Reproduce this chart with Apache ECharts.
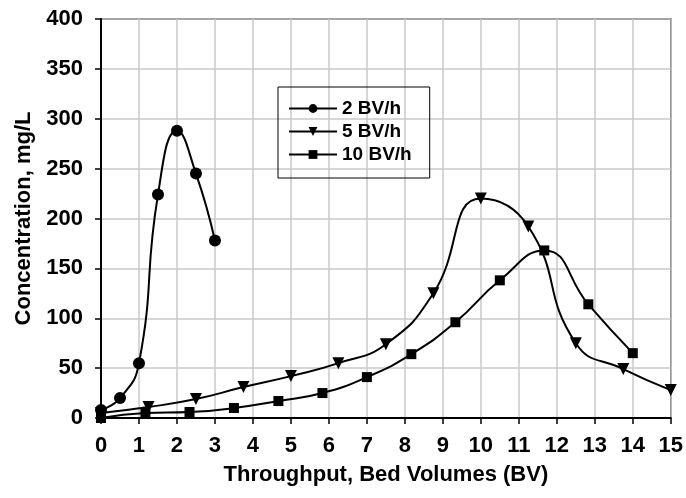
<!DOCTYPE html>
<html>
<head>
<meta charset="utf-8">
<script src="https://cdn.jsdelivr.net/npm/echarts@6/dist/echarts.min.js"></script>
<style>
html,body{margin:0;padding:0;background:#fff;}
#c{width:686px;height:498px;}
</style>
</head>
<body>
<div id="c"></div>
<script>
const x2 = [0, 0.5, 1, 1.5, 2, 2.5, 3];
const y2 = [8, 20, 55, 224, 288, 245, 178];
const x5 = [0, 1.25, 2.5, 3.75, 5, 6.25, 7.5, 8.75, 10, 11.25, 12.5, 13.75, 15];
const y5 = [5, 11, 19, 31, 42, 55, 74, 125, 220, 192, 75, 49, 28];
const x10 = [0, 1.17, 2.33, 3.5, 4.67, 5.83, 7, 8.17, 9.33, 10.5, 11.67, 12.83, 14];
const y10 = [0, 5, 6, 10, 17, 25, 41, 64, 96, 138, 168, 114, 65];
const seriesNames = ['2 BV/h', '5 BV/h', '10 BV/h'];
const xTitle = 'Throughput, Bed Volumes (BV)';
const yTitle = 'Concentration, mg/L';

const pair = (xs, ys) => xs.map((v, i) => [v, ys[i]]);
const font = 'Liberation Sans, Arial, sans-serif';
const FS = 22;
const LFS = 19;

const chart = echarts.init(document.getElementById('c'), null, {renderer: 'canvas'});
const common = {
  type: 'line', smooth: 0.5, lineStyle: {color: '#000', width: 2},
  itemStyle: {color: '#000'}, animation: false, showAllSymbol: true
};
chart.setOption({
  animation: false,
  backgroundColor: '#fff',
  grid: {left: 101, top: 19, right: 13, bottom: 80, show: true, borderColor: '#000', borderWidth: 1.5, backgroundColor: 'transparent'},
  legend: {
    left: 278, top: 87, orient: 'vertical',
    borderColor: '#000', borderWidth: 1, padding: [12, 18, 14, 10],
    itemWidth: 48, itemHeight: 11, itemGap: 4,
    textStyle: {fontFamily: font, fontWeight: 'bold', fontSize: LFS, color: '#000'},
    data: seriesNames
  },
  xAxis: {
    type: 'value', min: 0, max: 15, interval: 1,
    name: xTitle, nameLocation: 'middle', nameGap: 46,
    nameTextStyle: {fontFamily: font, fontWeight: 'bold', fontSize: FS, color: '#000'},
    axisLine: {lineStyle: {color: '#000', width: 2}},
    axisTick: {show: true, length: 6, lineStyle: {color: '#000', width: 1.5}},
    axisLabel: {fontFamily: font, fontWeight: 'bold', fontSize: FS, color: '#000', margin: 17},
    splitLine: {show: true, lineStyle: {color: '#c8c8c8', width: 1.5}}
  },
  yAxis: {
    type: 'value', min: 0, max: 400, interval: 50,
    name: yTitle, nameLocation: 'middle', nameGap: 65,
    nameTextStyle: {fontFamily: font, fontWeight: 'bold', fontSize: FS, color: '#000'},
    axisLine: {show: true, lineStyle: {color: '#000', width: 2}},
    axisTick: {show: true, length: 6, lineStyle: {color: '#000', width: 1.5}},
    axisLabel: {fontFamily: font, fontWeight: 'bold', fontSize: FS, color: '#000', margin: 18},
    splitLine: {show: true, lineStyle: {color: '#c8c8c8', width: 1.5}}
  },
  series: [
    Object.assign({name: seriesNames[0], data: pair(x2, y2), symbol: 'circle', symbolSize: 12}, common),
    Object.assign({name: seriesNames[1], data: pair(x5, y5), symbol: 'triangle', symbolRotate: 180, symbolSize: 12}, common),
    Object.assign({name: seriesNames[2], data: pair(x10, y10), symbol: 'rect', symbolSize: 10}, common)
  ]
});
</script>
</body>
</html>
